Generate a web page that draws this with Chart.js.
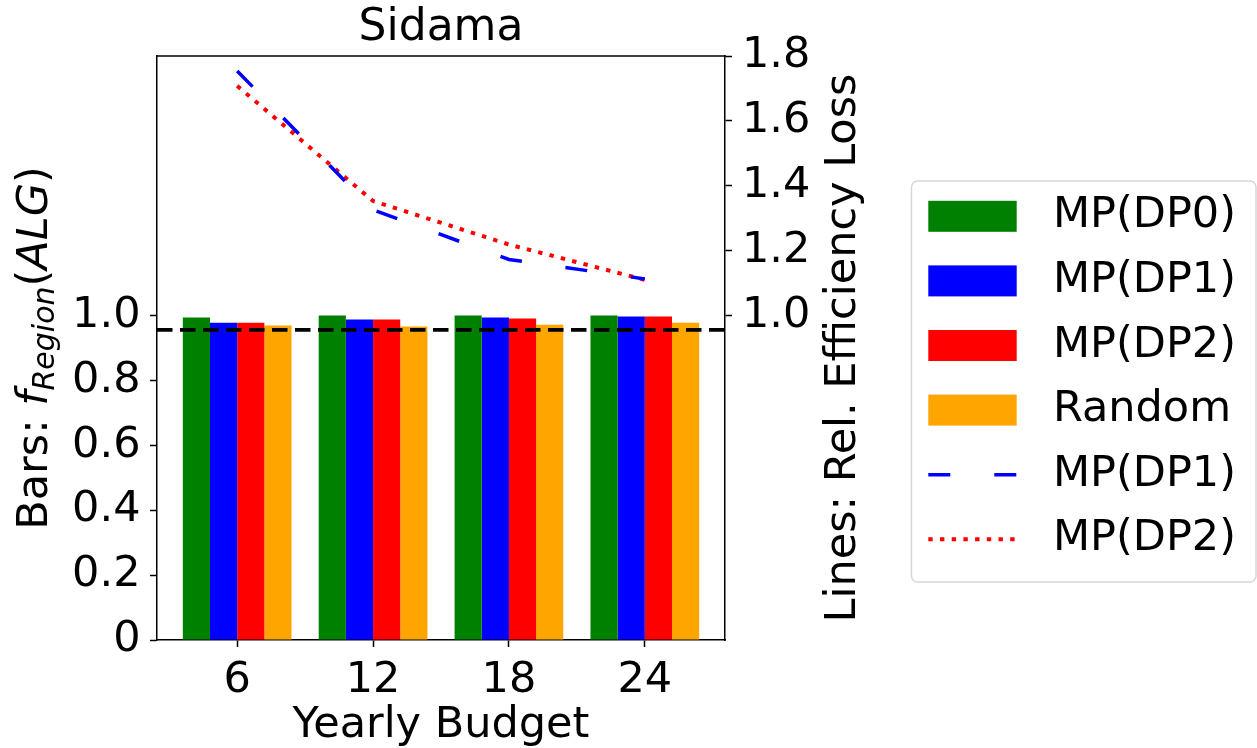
<!DOCTYPE html>
<html><head><meta charset="utf-8">
<script src="https://cdn.jsdelivr.net/npm/chart.js@4/dist/chart.umd.min.js"></script>
<style>html,body{margin:0;padding:0;background:#fff;} canvas{display:block;}</style>
</head><body>
<canvas id="c" width="1257" height="748" style="width:1257px;height:748px"></canvas>
<script>
// ---------------- data ----------------
const budgets = [6, 12, 18, 24];
const barMPDP0 = [0.994, 1.000, 1.000, 1.000];
const barMPDP1 = [0.978, 0.988, 0.994, 0.997];
const barMPDP2 = [0.978, 0.988, 0.991, 0.997];
const barRandom = [0.969, 0.966, 0.972, 0.978];
const lineMPDP1 = [1.754, 1.326, 1.173, 1.113];
const lineMPDP2 = [1.708, 1.353, 1.219, 1.110];
const referenceLevel = 0.956;
const xLimits = [2.46, 27.54];
const yLimits = [0, 1.8];
const leftTicks = [0, 0.2, 0.4, 0.6, 0.8, 1.0];
const leftTickLabels = ['0', '0.2', '0.4', '0.6', '0.8', '1.0'];
const rightTicks = [1.0, 1.2, 1.4, 1.6, 1.8];
const rightTickLabels = ['1.0', '1.2', '1.4', '1.6', '1.8'];
const xTickLabels = ['6', '12', '18', '24'];
const titleText = 'Sidama';
const xTitle = 'Yearly Budget';
const rightTitle = 'Lines: Rel. Efficiency Loss';

// ---------------- styling ----------------
const FONT = 'DejaVu Sans';
const FS = 43;
Chart.defaults.font.family = FONT;
Chart.defaults.color = '#000';

const pts = arr => budgets.map((b, i) => ({x: b, y: arr[i]}));

const barDs = (label, arr, color) => ({
  type: 'bar', label, data: pts(arr), backgroundColor: color, borderWidth: 0,
  yAxisID: 'y', order: 3, barPercentage: 1.0, categoryPercentage: 0.8
});

const datasets = [
  barDs('MP(DP0)', barMPDP0, '#008000'),
  barDs('MP(DP1)', barMPDP1, '#0000ff'),
  barDs('MP(DP2)', barMPDP2, '#ff0000'),
  barDs('Random', barRandom, '#ffa500'),
  {type: 'line', label: 'MP(DP1)', data: pts(lineMPDP1), borderColor: '#0000ff', backgroundColor: '#0000ff',
   borderWidth: 3.5, borderDash: [22, 44], borderCapStyle: 'butt', pointRadius: 0, tension: 0, yAxisID: 'y2', order: 1},
  {type: 'line', label: 'MP(DP2)', data: pts(lineMPDP2), borderColor: '#ff0000', backgroundColor: '#ff0000',
   borderWidth: 4, borderDash: [4.4, 7.3], borderCapStyle: 'butt', pointRadius: 0, tension: 0, yAxisID: 'y2', order: 1},
  {type: 'line', label: 'reference', hideInLegend: true,
   data: [{x: xLimits[0], y: referenceLevel}, {x: xLimits[1], y: referenceLevel}],
   borderColor: '#000', borderWidth: 3.6, borderDash: [15.5, 7.5], pointRadius: 0, tension: 0, yAxisID: 'y', order: 0,
   clip: 4}
];

// frame (top spine)
const framePlugin = {
  id: 'frame',
  afterDraw(chart) {
    const {ctx, chartArea: a} = chart;
    ctx.save();
    ctx.strokeStyle = '#000';
    ctx.lineWidth = 1.5;
    ctx.beginPath();
    ctx.moveTo(a.left - 0.75, a.top);
    ctx.lineTo(a.right + 0.75, a.top);
    ctx.stroke();
    ctx.restore();
  }
};

// rotated axis titles (left one with math-style subscript)
const axisTitlesPlugin = {
  id: 'axisTitles',
  afterDraw(chart) {
    const {ctx, chartArea: a} = chart;
    const cy = (a.top + a.bottom) / 2;
    const segs = [
      {t: 'Bars: ', f: `${FS}px "${FONT}"`, dy: 0},
      {t: 'f', f: `italic ${FS}px "${FONT}"`, dy: 0},
      {t: 'Region', f: `italic 30px "${FONT}"`, dy: 7},
      {t: '(', f: `${FS}px "${FONT}"`, dy: 0},
      {t: 'ALG', f: `italic ${FS}px "${FONT}"`, dy: 0},
      {t: ')', f: `${FS}px "${FONT}"`, dy: 0}
    ];
    ctx.save();
    ctx.fillStyle = '#000';
    let total = 0;
    segs.forEach(s => { ctx.font = s.f; s.w = ctx.measureText(s.t).width; total += s.w; });
    ctx.translate(47, cy);
    ctx.rotate(-Math.PI / 2);
    ctx.textBaseline = 'alphabetic';
    ctx.textAlign = 'left';
    let x = -total / 2;
    segs.forEach(s => { ctx.font = s.f; ctx.fillText(s.t, x, s.dy); x += s.w; });
    ctx.restore();
    ctx.save();
    ctx.fillStyle = '#000';
    ctx.font = `${FS}px "${FONT}"`;
    ctx.translate(855, cy);
    ctx.rotate(-Math.PI / 2);
    ctx.textAlign = 'center';
    ctx.textBaseline = 'alphabetic';
    ctx.fillText(rightTitle, 0, 0);
    ctx.restore();
  }
};

// legend box on the right
const legendPlugin = {
  id: 'customLegend',
  afterDraw(chart) {
    const {ctx} = chart;
    const items = chart.data.datasets.filter(d => !d.hideInLegend);
    const box = {x: 911.5, y: 181, w: 344.5, h: 401};
    ctx.save();
    ctx.fillStyle = 'rgba(255,255,255,0.8)';
    ctx.strokeStyle = '#d6d6d6';
    ctx.lineWidth = 1.5;
    ctx.beginPath();
    ctx.roundRect(box.x, box.y, box.w, box.h, 6);
    ctx.fill();
    ctx.stroke();
    const hx0 = 928.3, hx1 = 1016.7, rowY0 = 216.3, rowStep = 64.6, textX = 1053;
    items.forEach((d, i) => {
      const yc = rowY0 + i * rowStep;
      if (d.type === 'bar') {
        ctx.fillStyle = d.backgroundColor;
        ctx.fillRect(hx0, yc - 15.5, hx1 - hx0, 31);
      } else {
        ctx.strokeStyle = d.borderColor;
        ctx.lineWidth = d.borderWidth;
        ctx.setLineDash(d.borderDash || []);
        ctx.lineCap = 'butt';
        ctx.beginPath();
        ctx.moveTo(hx0, yc);
        ctx.lineTo(hx1, yc);
        ctx.stroke();
        ctx.setLineDash([]);
      }
      ctx.fillStyle = '#000';
      ctx.font = `${FS}px "${FONT}"`;
      ctx.textAlign = 'left';
      ctx.textBaseline = 'middle';
      ctx.fillText(d.label, textX, yc);
    });
    ctx.restore();
  }
};

const tickGrid = {display: true, offset: false, drawOnChartArea: false, drawTicks: true, tickLength: 7, tickWidth: 1.5, tickColor: '#000'};
const border = {display: true, color: '#000', width: 1.5};

new Chart(document.getElementById('c'), {
  type: 'bar',
  data: {datasets},
  options: {
    responsive: false,
    animation: false,
    events: [],
    layout: {padding: {left: 0, right: 352, top: 0, bottom: 0}},
    plugins: {
      legend: {display: false},
      tooltip: {enabled: false},
      title: {display: true, text: titleText, fullSize: false, color: '#000',
              font: {family: FONT, size: 44, weight: 'normal', lineHeight: 1.2},
              padding: {top: 2, bottom: 1.2}}
    },
    scales: {
      x: {
        type: 'linear', position: 'bottom', min: xLimits[0], max: xLimits[1], offset: false,
        grid: tickGrid, border,
        afterBuildTicks: s => { s.ticks = budgets.map(v => ({value: v})); },
        afterFit: s => { s.height = 108; },
        ticks: {font: {size: FS}, padding: 8, maxRotation: 0, autoSkip: false,
                callback: (v, i) => xTickLabels[i]},
        title: {display: true, text: xTitle, font: {size: FS, lineHeight: 1.2}, padding: {top: 0, bottom: -4}}
      },
      y: {
        type: 'linear', position: 'left', min: yLimits[0], max: yLimits[1],
        grid: tickGrid, border,
        afterBuildTicks: s => { s.ticks = leftTicks.map(v => ({value: v})); },
        afterFit: s => { s.width = 157; },
        ticks: {font: {size: FS}, padding: 9.5, autoSkip: false, callback: (v, i) => leftTickLabels[i]}
      },
      y2: {
        type: 'linear', position: 'right', min: yLimits[0], max: yLimits[1],
        grid: tickGrid, border,
        afterBuildTicks: s => { s.ticks = rightTicks.map(v => ({value: v})); },
        afterFit: s => { s.width = 180; },
        ticks: {font: {size: FS}, padding: 10, autoSkip: false, callback: (v, i) => rightTickLabels[i]}
      }
    }
  },
  plugins: [framePlugin, axisTitlesPlugin, legendPlugin]
});
</script>
</body></html>
